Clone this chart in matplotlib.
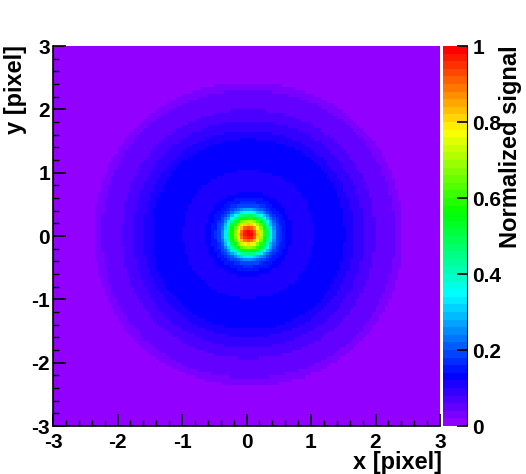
import numpy as np
import matplotlib
matplotlib.use("Agg")
import matplotlib.pyplot as plt
from matplotlib.colors import ListedColormap, BoundaryNorm, hsv_to_rgb
from matplotlib.ticker import MultipleLocator

# ---- data ----
# radial profile of the normalized signal (distance from spot centre, in pixels)
profile_r = [0.00, 0.07, 0.12, 0.18, 0.24, 0.29, 0.37, 0.44, 0.51, 0.58, 0.67,
             0.85, 1.01, 1.25, 1.50, 1.63, 1.79, 1.96, 2.27, 2.39, 2.80, 4.50]
profile_v = [1.00, 0.97, 0.88, 0.75, 0.60, 0.50, 0.30, 0.20, 0.16, 0.14, 0.12,
             0.11, 0.12, 0.132, 0.12, 0.10, 0.08, 0.06, 0.04, 0.02, 0.012, 0.005]
spot_center = [0.03, 0.03]
n_bins = 120
x_range = [-3, 3]
y_range = [-3, 3]
n_levels = 50
cbar_ticks = [0, 0.2, 0.4, 0.6, 0.8, 1.0]
cbar_ticklabels = ["0", "0.2", "0.4", "0.6", "0.8", "1"]
axis_ticks = [-3, -2, -1, 0, 1, 2, 3]

# ---- build the map from the profile ----
edges_x = np.linspace(x_range[0], x_range[1], n_bins + 1)
edges_y = np.linspace(y_range[0], y_range[1], n_bins + 1)
cx = 0.5 * (edges_x[:-1] + edges_x[1:])
cy = 0.5 * (edges_y[:-1] + edges_y[1:])
X, Y = np.meshgrid(cx, cy)
p = 2.1
R = (np.abs(X - spot_center[0]) ** p + np.abs(Y - spot_center[1]) ** p) ** (1.0 / p)
Z = np.interp(R, profile_r, profile_v)

# ---- ROOT "pretty" palette: 50 colours violet -> red ----
cols = []
for i in range(n_levels - 1):
    hue = 280 - (i + 1) * (280.0 / n_levels)
    cols.append(hsv_to_rgb([hue / 360.0, 1.0, 1.0]))
cols.append([1.0, 0.0, 0.0])
cmap = ListedColormap(cols)
levels = np.linspace(0, 1, n_levels + 1)
norm = BoundaryNorm(levels, n_levels)

plt.rcParams['font.family'] = ['Liberation Sans', 'DejaVu Sans']
plt.rcParams['font.weight'] = 'bold'
plt.rcParams['axes.unicode_minus'] = False

W, H = 526, 474
fig = plt.figure(figsize=(W / 100, H / 100), dpi=100)
L, R_, T, B = 53, 440, 46, 426
ax = fig.add_axes([L / W, 1 - B / H, (R_ - L) / W, (B - T) / H])
mesh = ax.pcolormesh(edges_x, edges_y, Z, cmap=cmap, norm=norm, shading='flat')
ax.set_xlim(x_range)
ax.set_ylim(y_range)
ax.set_xticks(axis_ticks)
ax.set_yticks(axis_ticks)
ax.xaxis.set_minor_locator(MultipleLocator(0.2))
ax.yaxis.set_minor_locator(MultipleLocator(0.2))
ax.tick_params(which='major', direction='in', length=9, width=1.2, labelsize=15,
               top=False, right=False)
ax.tick_params(which='minor', direction='in', length=4.5, width=1.0, top=False, right=False)
ax.tick_params(axis='x', which='major', pad=5)
ax.tick_params(axis='y', which='major', pad=2)
for lab in ax.get_xticklabels() + ax.get_yticklabels():
    lab.set_fontweight('bold')
for s in ['top', 'right']:
    ax.spines[s].set_visible(False)
for s in ['left', 'bottom']:
    ax.spines[s].set_linewidth(1.2)

fig.text(442 / W, 1 - 462 / H, "x [pixel]", ha='right', va='center', fontsize=17, fontweight='bold')
fig.text(16 / W, 1 - (T - 1) / H, "y [pixel]", ha='center', va='top', rotation=90, fontsize=17, fontweight='bold')

# colour bar
cax = fig.add_axes([443 / W, 1 - B / H, 25 / W, (B - T) / H])
cb = fig.colorbar(mesh, cax=cax, ticks=cbar_ticks)
cb.outline.set_visible(False)
cax.set_yticklabels(cbar_ticklabels)
cax.yaxis.set_ticks_position('right')
cax.tick_params(which='major', direction='in', length=8, width=1.2, labelsize=15, pad=3)
cax.tick_params(which='minor', length=0)
for lab in cax.get_yticklabels():
    lab.set_fontweight('bold')
cax.axvline(1.0, color='black', lw=1.5)
fig.text(511 / W, 1 - (T - 1) / H, "Normalized signal", ha='center', va='top', rotation=90,
         fontsize=17, fontweight='bold')

fig.savefig("out.png", dpi=100)
